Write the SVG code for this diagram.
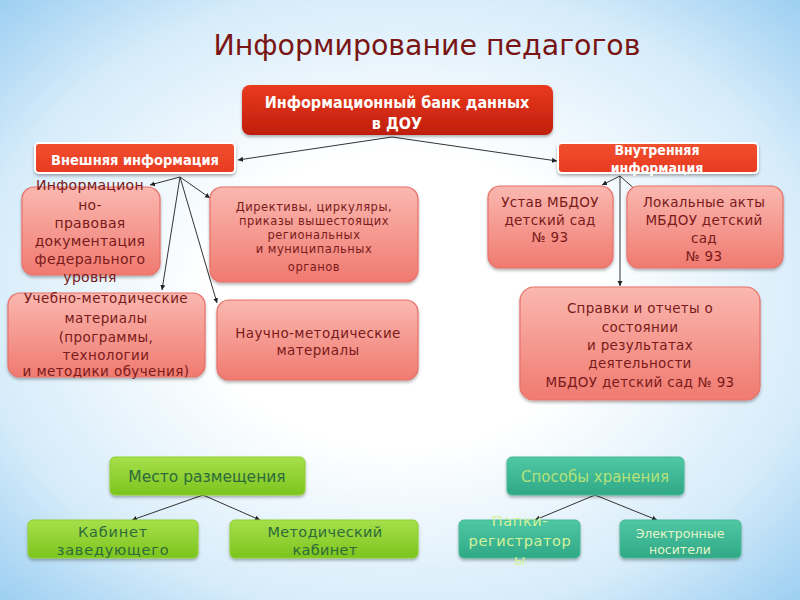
<svg xmlns="http://www.w3.org/2000/svg" width="800" height="600" viewBox="0 0 800 600">
<defs>
<radialGradient id="bg" cx="0.5" cy="0.5" r="0.7">
<stop offset="0.35" stop-color="#ffffff"/>
<stop offset="0.75" stop-color="#d6ecfa"/>
<stop offset="1" stop-color="#9fd0f2"/>
</radialGradient>
<linearGradient id="red" x1="0" y1="0" x2="0" y2="1">
<stop offset="0" stop-color="#ea3a1e"/>
<stop offset="1" stop-color="#bf1e0c"/>
</linearGradient>
<linearGradient id="hdr" x1="0" y1="0" x2="0" y2="1">
<stop offset="0" stop-color="#f0502e"/>
<stop offset="1" stop-color="#e83a22"/>
</linearGradient>
<linearGradient id="pink" x1="0" y1="0" x2="0" y2="1">
<stop offset="0" stop-color="#fab8b0"/>
<stop offset="1" stop-color="#f07a70"/>
</linearGradient>
<linearGradient id="green" x1="0" y1="0" x2="0" y2="1">
<stop offset="0" stop-color="#a6e04a"/>
<stop offset="1" stop-color="#7cc41e"/>
</linearGradient>
<linearGradient id="teal" x1="0" y1="0" x2="0" y2="1">
<stop offset="0" stop-color="#50c8a4"/>
<stop offset="1" stop-color="#2fa886"/>
</linearGradient>
<filter id="sh" x="-10%" y="-10%" width="120%" height="130%">
<feDropShadow dx="0" dy="2" stdDeviation="1.5" flood-color="#000" flood-opacity="0.3"/>
</filter>
<marker id="ar" markerWidth="6" markerHeight="6" refX="5" refY="3" orient="auto" markerUnits="userSpaceOnUse">
<path d="M0,0.5 L5,3 L0,5.5 z" fill="#222"/>
</marker>
</defs>
<style>
.t{font-family:"DejaVu Sans Condensed","DejaVu Sans",sans-serif;text-anchor:middle}
.s{font-family:"DejaVu Sans",sans-serif;text-anchor:middle}
.w{fill:#ffffff;font-weight:bold}
.dr{fill:#7a1a1a}
.dg{fill:#2e6a3a}
.pk{fill:url(#pink);stroke:#e87068;stroke-width:1.2;filter:url(#sh)}
.gr{fill:url(#green);stroke:#8fd030;stroke-width:1;filter:url(#sh)}
.tl{fill:url(#teal);stroke:#46b896;stroke-width:1;filter:url(#sh)}
.c{stroke:#333;stroke-width:1;fill:none;marker-end:url(#ar)}
</style>
<rect width="800" height="600" fill="url(#bg)"/>
<text class="t" x="427" y="55" font-size="28" fill="#7a1515" textLength="427" lengthAdjust="spacingAndGlyphs">Информирование педагогов</text>

<g id="connectors">
<line class="c" x1="392" y1="137" x2="238" y2="160"/>
<line class="c" x1="392" y1="137" x2="557" y2="161"/>
<line class="c" x1="180" y1="177" x2="150" y2="185"/>
<line class="c" x1="180" y1="177" x2="162" y2="290"/>
<line class="c" x1="180" y1="177" x2="217" y2="303"/>
<line class="c" x1="180" y1="177" x2="210" y2="198"/>
<line class="c" x1="620" y1="176" x2="602" y2="185"/>
<line class="c" x1="620" y1="176" x2="638" y2="192"/>
<line class="c" x1="620" y1="176" x2="620" y2="286"/>
<line class="c" x1="203" y1="495" x2="132" y2="520"/>
<line class="c" x1="203" y1="495" x2="260" y2="520"/>
<line class="c" x1="595" y1="495" x2="535" y2="520"/>
<line class="c" x1="595" y1="495" x2="657" y2="520"/>
</g>

<g id="bank">
<rect x="242" y="85" width="311" height="50" rx="8" fill="url(#red)" filter="url(#sh)"/>
<text class="t w" x="397" y="108" font-size="16">Информационный банк данных</text>
<text class="t w" x="397" y="129" font-size="16">в ДОУ</text>
</g>

<g id="external">
<rect x="35" y="143" width="200" height="30" rx="4" fill="url(#hdr)" stroke="#fff" stroke-width="2" filter="url(#sh)"/>
<text class="t w" x="135" y="165" font-size="14.5">Внешняя информация</text>
</g>

<g id="internal">
<rect x="558" y="143" width="200" height="30" rx="4" fill="url(#hdr)" stroke="#fff" stroke-width="2" filter="url(#sh)"/>
<text class="t w" x="657" y="155" font-size="14">Внутренняя</text>
<text class="t w" x="657" y="173" font-size="14">информация</text>
</g>

<g id="legal">
<rect class="pk" x="22" y="187" width="138" height="88" rx="12"/>
<text class="s dr" font-size="14" letter-spacing="0.3"><tspan x="90" y="190">Информацион</tspan><tspan x="90" y="210">но-</tspan><tspan x="90" y="228">правовая</tspan><tspan x="90" y="246">документация</tspan><tspan x="90" y="264">федерального</tspan><tspan x="90" y="282">уровня</tspan></text>
</g>

<g id="directives">
<rect class="pk" x="210" y="187" width="208" height="95" rx="12"/>
<text class="s dr" font-size="11.5" letter-spacing="0.5"><tspan x="314" y="211">Директивы, циркуляры,</tspan><tspan x="314" y="225">приказы вышестоящих</tspan><tspan x="314" y="239">региональных</tspan><tspan x="314" y="253">и муниципальных</tspan><tspan x="314" y="271">органов</tspan></text>
</g>

<g id="teaching">
<rect class="pk" x="8" y="293" width="197" height="84" rx="12"/>
<text class="s dr" font-size="13.5" letter-spacing="0.4"><tspan x="106" y="303">Учебно-методические</tspan><tspan x="106" y="323">материалы</tspan><tspan x="106" y="342">(программы,</tspan><tspan x="106" y="360">технологии</tspan><tspan x="106" y="376">и методики обучения)</tspan></text>
</g>

<g id="science">
<rect class="pk" x="217" y="300" width="201" height="80" rx="12"/>
<text class="s dr" font-size="13.5" letter-spacing="0.4"><tspan x="318" y="338">Научно-методические</tspan><tspan x="318" y="355">материалы</tspan></text>
</g>

<g id="charter">
<rect class="pk" x="488" y="186" width="125" height="82" rx="12"/>
<text class="s dr" font-size="13.5" letter-spacing="0.3"><tspan x="550" y="207">Устав МБДОУ</tspan><tspan x="550" y="225">детский сад</tspan><tspan x="550" y="242">№ 93</tspan></text>
</g>

<g id="local">
<rect class="pk" x="627" y="186" width="156" height="82" rx="12"/>
<text class="s dr" font-size="13.5" letter-spacing="0.3"><tspan x="704" y="207">Локальные акты</tspan><tspan x="704" y="225">МБДОУ детский</tspan><tspan x="704" y="243">сад</tspan><tspan x="704" y="261">№ 93</tspan></text>
</g>

<g id="reports">
<rect class="pk" x="520" y="287" width="240" height="113" rx="14"/>
<text class="s dr" font-size="13.5" letter-spacing="0.3"><tspan x="640" y="313">Справки и отчеты о</tspan><tspan x="640" y="332">состоянии</tspan><tspan x="640" y="350">и результатах</tspan><tspan x="640" y="368">деятельности</tspan><tspan x="640" y="387">МБДОУ детский сад № 93</tspan></text>
</g>

<g id="place">
<rect class="gr" x="110" y="457" width="195" height="38" rx="5"/>
<text class="s dg" x="207" y="482" font-size="15.5">Место размещения</text>
</g>

<g id="head-office">
<rect class="gr" x="28" y="520" width="170" height="38" rx="5"/>
<text class="s dg" font-size="14.5" letter-spacing="0.8"><tspan x="113" y="537">Кабинет</tspan><tspan x="113" y="555">заведующего</tspan></text>
</g>

<g id="method-office">
<rect class="gr" x="230" y="520" width="188" height="38" rx="5"/>
<text class="s dg" font-size="14.5" letter-spacing="0.3"><tspan x="325" y="537">Методический</tspan><tspan x="325" y="555">кабинет</tspan></text>
</g>

<g id="storage">
<rect class="tl" x="507" y="457" width="177" height="38" rx="5"/>
<text class="s" x="595" y="482" font-size="15" fill="#b4e27a">Способы хранения</text>
</g>

<g id="folders">
<rect class="tl" x="459" y="520" width="121" height="38" rx="5"/>
<text class="s" font-size="14.5" letter-spacing="0.6" fill="#d4f29a"><tspan x="520" y="526">Папки-</tspan><tspan x="520" y="546">регистратор</tspan><tspan x="520" y="565">ы</tspan></text>
</g>

<g id="electronic">
<rect class="tl" x="620" y="520" width="121" height="38" rx="5"/>
<text class="s" font-size="12.5" fill="#e4f4c8"><tspan x="680" y="538">Электронные</tspan><tspan x="680" y="554">носители</tspan></text>
</g>
</svg>
